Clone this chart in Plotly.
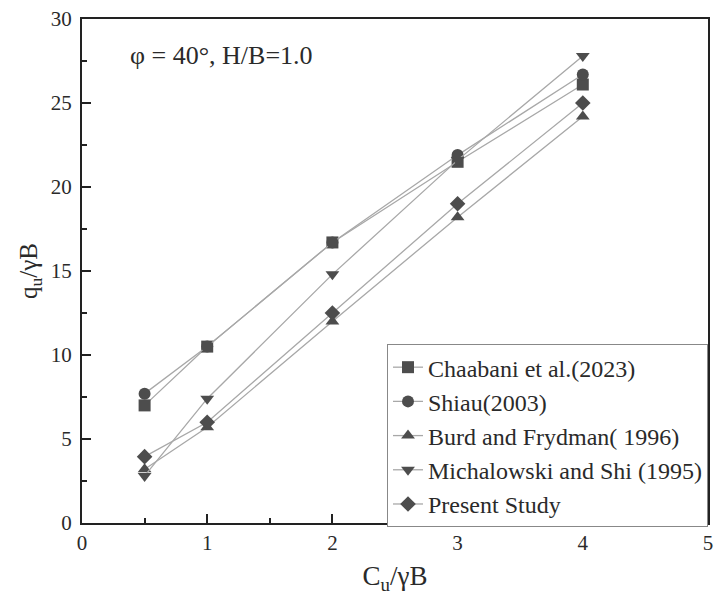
import plotly.graph_objects as go

x_vals = [0.5, 1, 2, 3, 4]
chaabani = [7.0, 10.5, 16.7, 21.5, 26.1]
shiau = [7.7, 10.5, 16.7, 21.9, 26.7]
burd = [3.2, 5.7, 12.0, 18.2, 24.2]
michalowski = [2.8, 7.4, 14.8, 21.6, 27.8]
present = [3.95, 6.0, 12.5, 19.0, 25.0]

names = ["Chaabani et al.(2023)", "Shiau(2003)", "Burd and Frydman( 1996)",
         "Michalowski and Shi (1995)", "Present Study"]
series = [chaabani, shiau, burd, michalowski, present]
symbols = ["square", "circle", "triangle-up", "triangle-down", "diamond"]

FONT = "Times New Roman, Liberation Serif, Noto Serif, DejaVu Serif, serif"
MARK = "#4d4d4d"
LINE = "#a8a8a8"
TXT = "#2a2a2a"

fig = go.Figure()
for n, s, sym in zip(names, series, symbols):
    fig.add_trace(go.Scatter(
        x=x_vals, y=s, name=n, mode="lines+markers",
        line=dict(color=LINE, width=1.3),
        marker=dict(symbol=sym, size=12, color=MARK),
    ))

axis_common = dict(
    showline=True, linecolor="#222", linewidth=2, mirror=True,
    ticks="inside", ticklen=9, tickwidth=2, tickcolor="#222",
    showgrid=False, zeroline=False, automargin=False,
    tickfont=dict(family=FONT, size=21, color=TXT),
)

fig.update_xaxes(range=[0, 5], dtick=1, tick0=0,
                 title=dict(text="C<sub>u</sub>/γB", font=dict(family=FONT, size=27, color=TXT), standoff=12),
                 minor=dict(dtick=0.5, ticks="inside", ticklen=5, tickwidth=1.5, tickcolor="#222"),
                 **axis_common)
fig.update_yaxes(range=[0, 30], dtick=5, tick0=0, ticklabelstandoff=4,
                 title=dict(text="q<sub>u</sub>/γB", font=dict(family=FONT, size=25, color=TXT), standoff=6),
                 minor=dict(dtick=2.5, ticks="inside", ticklen=5, tickwidth=1.5, tickcolor="#222"),
                 **axis_common)

fig.add_annotation(text="φ = 40°, H/B=1.0", xref="paper", yref="paper",
                   x=0.073, y=0.928, xanchor="left", yanchor="middle", showarrow=False,
                   font=dict(family=FONT, size=26, color=TXT))

fig.update_layout(
    width=714, height=602,
    margin=dict(l=82, r=6, t=19, b=79),
    paper_bgcolor="white", plot_bgcolor="white",
    showlegend=True,
    legend=dict(x=1, xanchor="right", y=0.355, yanchor="top",
                bordercolor="#888", borderwidth=1, bgcolor="white",
                font=dict(family=FONT, size=24, color=TXT),
                tracegroupgap=0),
)

fig.write_html("out.html", config={"displayModeBar": False},
               post_script="document.body.style.margin='0';document.body.style.overflow='hidden';")
